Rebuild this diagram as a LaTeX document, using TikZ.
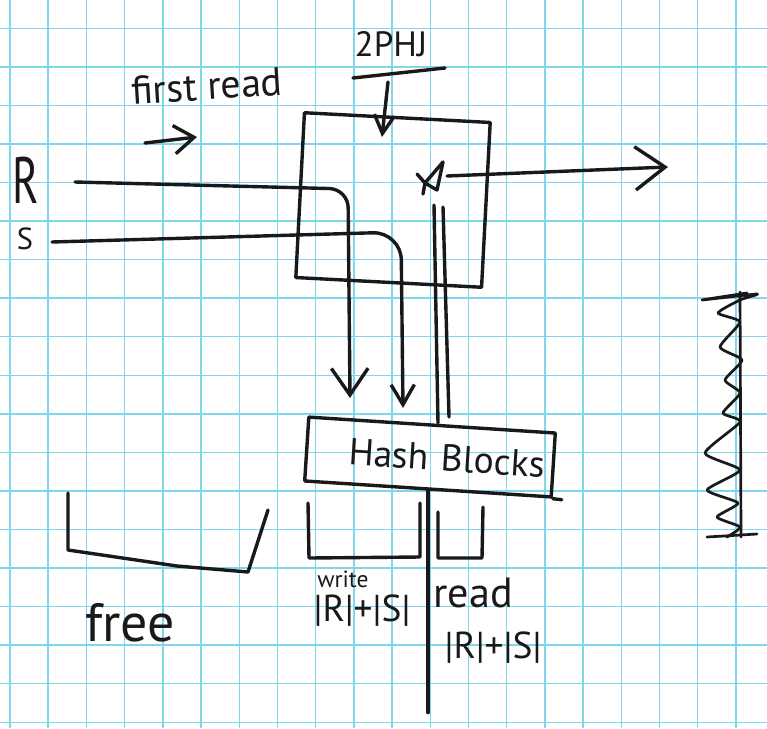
\documentclass[tikz,border=0pt]{standalone}
\usepackage{fontspec}
\setmainfont{PT Sans}
\usepackage{tikz}
\usetikzlibrary{arrows.meta}

\definecolor{gridcyan}{RGB}{130,214,234}
\definecolor{ink}{RGB}{25,25,25}

\begin{document}
\begin{tikzpicture}[x=0.03cm, y=-0.03cm,
    pen/.style={draw=ink, line width=2.9pt, line cap=round, line join=round},
    gridline/.style={draw=gridcyan, line width=1.2pt},
    hand/.style={text=ink, inner sep=0pt, font=\fontsize{#1}{#1}\selectfont},
    hand/.default=30pt,
    barb/.style args={#1/#2}{-{Straight Barb[length=#1, width=#2]}}]
    \useasboundingbox (0,0) rectangle (767,728);
    % graph paper
    \fill[white] (0,0) rectangle (767,728);
    \foreach \i in {0,...,19} \draw[gridline] ({10+38.2*\i},0) -- ({10+38.2*\i},728);
    \foreach \j in {0,...,18} \draw[gridline] (0,{28.3+38.55*\j}) -- (767,{28.3+38.55*\j});

    % labels
    \node[hand=34pt, rotate=3.5] (firstread) at (207,86) {first read};
    \node[hand=30pt] (phjlabel) at (391,44) {2PHJ};
    \node[hand=56pt, xscale=0.68] (rlab) at (26,180) {R};
    \node[hand=26pt] (slab) at (25,239) {S};
    \node[hand=20pt] (writelab) at (343,579) {write};
    \node[hand=32pt] (writesize) at (362,611) {|R|+|S|};
    \node[hand=36pt] (readlab) at (473,593) {read};
    \node[hand=32pt] (readsize) at (493,648) {|R|+|S|};
    \node[hand=46pt] (freelab) at (130,623) {free};

    % boxes
    \node[pen, minimum width=5.58cm, minimum height=4.95cm, rotate=-3] (phj) at (393,200) {};
    \node[pen, hand=32pt, rotate=-3.7, minimum width=7.41cm, minimum height=1.92cm,
          text width=6.9cm, align=right] (hash) at (430,457) {Hash Blocks};

    % end points
    \coordinate (rin) at (75,182);   \coordinate (rturn) at (348,189); \coordinate (rend) at (350,398);
    \coordinate (sin) at (52,242);   \coordinate (sturn) at (401,232); \coordinate (send) at (403,408);
    \coordinate (join) at (430,178); \coordinate (outend) at (668,167);
    \coordinate (smalla) at (145,143); \coordinate (smallb) at (197,137);
    \coordinate (ula) at (353,78);   \coordinate (ulb) at (445,68);
    \coordinate (phja) at (388,82);  \coordinate (phjb) at (382,137);

    % input streams
    \draw[pen, rounded corners=16pt, barb=0.8cm/1.1cm] (rin) -- (rturn) -- (rend);
    \draw[pen, rounded corners=24pt, barb=0.6cm/0.7cm] (sin) -- (sturn) -- (send);
    \draw[pen, barb=0.6cm/0.85cm] (smalla) -- (smallb);

    % 2PHJ label with pointer
    \draw[pen] (ula) -- (ulb);
    \draw[pen, barb=0.55cm/0.6cm] (phja) -- (phjb);

    % join and output
    \draw[pen, shift={(join)}] (-13,-4) -- (-5,5) -- (13,-16) -- (7,12) -- (-5,5) -- (-7,16);
    \draw[pen, barb=0.9cm/1.3cm] ([shift={(17,-2)}]join) -- (outend);
    \draw[pen] (434,205) -- (438,423);
    \draw[pen] (443,207) -- (449,417);

    % memory split
    \draw[pen] (hash.south) -- ++(0,222);
    \draw[pen] (hash.south east) -- ++(9,1);
    \draw[pen] (308,503) -- (309,558) -- (420,557) -- (420,503);
    \draw[pen] (438,512) -- (438,558) -- (482,558) -- (483,507);
    \draw[pen] (68,493) -- (68,550) -- (177,566) -- (248,572) -- (268,510);

    % scribble
    \draw[pen, line width=2.3pt] (740,292) -- (741,537);
    \draw[pen, line width=2.3pt] plot[smooth, tension=0.35] coordinates {(747,293) (702,300) (757,294)
        (740,300) (718,313) (740,322) (720,347) (742,360) (725,380) (740,393) (723,413) (740,422)
        (705,453) (740,470) (707,490) (738,503) (717,517) (740,527) (727,537)};
    \draw[pen, line width=2.3pt] (707,537) -- (757,534);
\end{tikzpicture}
\end{document}
